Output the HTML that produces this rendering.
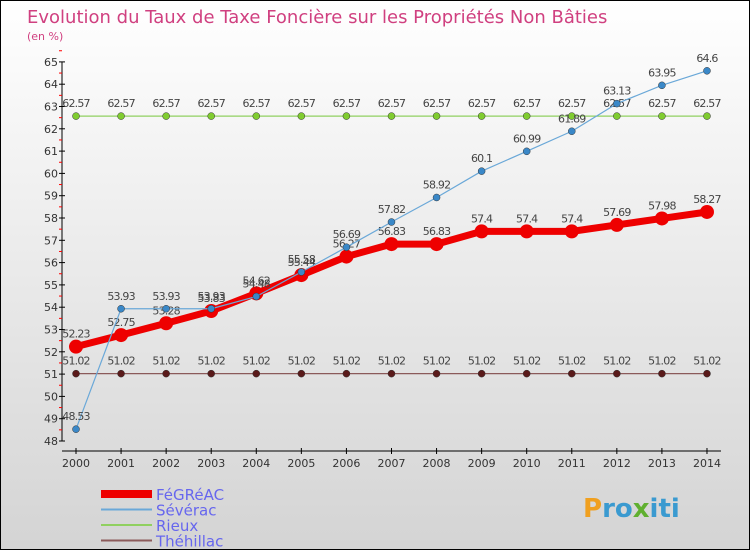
<!DOCTYPE html>
<html><head><meta charset="utf-8"><style>
body{margin:0}
#c{width:750px;height:550px;position:relative;font-family:"DejaVu Sans","Liberation Sans",sans-serif;background:linear-gradient(#ffffff,#d4d4d4);box-sizing:border-box;border:1px solid #000;overflow:hidden}
</style></head><body>
<div id="c">
<svg id="s" width="750" height="550" style="position:absolute;left:0;top:0">
<text x="26" y="22" font-size="18" fill="#d04080" font-family="DejaVu Sans, sans-serif">Evolution du Taux de Taxe Foncière sur les Propriétés Non Bâties</text>
<text x="26" y="39" font-size="11" fill="#d04080">(en %)</text>
</svg>
</div>
<script>
const years=[2000,2001,2002,2003,2004,2005,2006,2007,2008,2009,2010,2011,2012,2013,2014];
const yTicks=[48,49,50,51,52,53,54,55,56,57,58,59,60,61,62,63,64,65];
const fegreac=[52.23,52.75,53.28,53.83,54.62,55.44,56.27,56.83,56.83,57.4,57.4,57.4,57.69,57.98,58.27];
const severac=[48.53,53.93,53.93,53.93,54.48,55.58,56.69,57.82,58.92,60.1,60.99,61.89,63.13,63.95,64.6];
const rieux=[62.57,62.57,62.57,62.57,62.57,62.57,62.57,62.57,62.57,62.57,62.57,62.57,62.57,62.57,62.57];
const thehillac=[51.02,51.02,51.02,51.02,51.02,51.02,51.02,51.02,51.02,51.02,51.02,51.02,51.02,51.02,51.02];
const names=["FéGRéAC","Sévérac","Rieux","Théhillac"];
const svg=document.getElementById('s');const NS='http://www.w3.org/2000/svg';
function X(i){return 75+i*45.07;}
function Y(v){return 440-(v-48)*22.3;}
function el(t,a,p){const e=document.createElementNS(NS,t);for(const k in a)e.setAttribute(k,a[k]);(p||svg).appendChild(e);return e;}
// axes
let ya=el('line',{x1:61,y1:Y(65),x2:61,y2:440,stroke:'#000'});

yTicks.forEach(v=>{el('line',{x1:58,x2:64,y1:Y(v),y2:Y(v),stroke:'#000'});
el('line',{x1:58,x2:61,y1:Y(v+0.5),y2:Y(v+0.5),stroke:'red'});
let t=el('text',{x:57,y:Y(v)+4,'font-size':11,'text-anchor':'end',fill:'#333'});t.textContent=v;
});
let xa=el('line',{x1:61,y1:450,x2:720,y2:450,stroke:'#000'});

years.forEach((y,i)=>{el('line',{x1:X(i),x2:X(i),y1:447,y2:453,stroke:'#000'});
let t=el('text',{x:X(i),y:466,'font-size':11,'text-anchor':'middle',fill:'#333'});t.textContent=y;
});
function series(d,color,w,r,name,ptc){
 const g=el('g',{});
 el('polyline',{points:d.map((v,i)=>X(i)+','+Y(v)).join(' '),fill:'none',stroke:color,'stroke-width':w,'stroke-linejoin':'round'},g);
 d.forEach((v,i)=>{let c=el('circle',{cx:X(i),cy:Y(v),r:r,fill:ptc||color,stroke:ptc?'#333':'none','stroke-width':0.5},g);
 
 let t=el('text',{x:X(i),y:Y(v)-9,'font-size':11,'text-anchor':'middle',fill:'#444','letter-spacing':'-0.8'},g);t.textContent=v;});
}
series(rieux,'#90d060',1.2,3.5,'rieux','#80cc30');
series(thehillac,'#8b5a5a',1.2,3.5,'thehillac','#5a1a1a');
series(fegreac,'#ee0000',7,7,'fegreac');
series(severac,'#6aa8d8',1.2,3.5,'severac','#3a88c8');
const lc=['#ee0000','#6aa8d8','#90d060','#8b5a5a'],lw=[8,2,2,2];
names.forEach((n,i)=>{const yy=493+i*15.5;
 let l=el('line',{x1:100,x2:151,y1:yy,y2:yy,stroke:lc[i],'stroke-width':lw[i]});
 
 let t=el('text',{x:155,y:yy+6,'font-size':15,fill:'#6666ee'});t.textContent=n;
 });
let p=el('text',{x:582,y:516,'font-size':26,'font-weight':'bold',fill:'#3a9ad0'});
p.innerHTML='<tspan fill="#f0a020">P</tspan>ro<tspan fill="#60b030">x</tspan>iti';

</script>
</body></html>
